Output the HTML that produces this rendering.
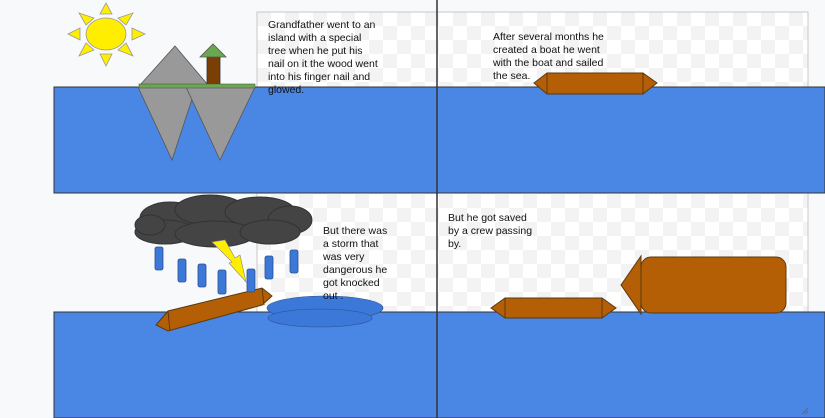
<!DOCTYPE html>
<html><head><style>html,body{margin:0;padding:0;background:#f8f9fa;}svg{display:block}</style></head><body>
<svg width="825" height="418" viewBox="0 0 825 418" xmlns="http://www.w3.org/2000/svg" font-family="Liberation Sans, sans-serif">
<defs>
<pattern id="ck" width="28" height="28" patternUnits="userSpaceOnUse" x="257" y="12">
<rect width="28" height="28" fill="#ffffff"/><rect width="14" height="14" fill="#f3f3f3"/><rect x="14" y="14" width="14" height="14" fill="#f3f3f3"/>
</pattern>
</defs>
<rect width="825" height="418" fill="#f8f9fa"/>
<rect x="257" y="12" width="551" height="300" fill="url(#ck)" stroke="#c8c8c8"/>
<!-- top band -->
<rect x="54" y="87" width="771" height="106" fill="#4a86e4" stroke="#333" stroke-width="1"/>
<rect x="54" y="312" width="771" height="106" fill="#4a86e4" stroke="#333" stroke-width="1"/>
<line x1="437" y1="0" x2="437" y2="418" stroke="#333" stroke-width="1.5"/>
<!-- sun -->
<g fill="#ffee00" stroke="#999" stroke-width="0.8">
<polygon points="106,3 100,14 112,14"/><polygon points="106,66 100,54 112,54"/>
<polygon points="68,34 80,28 80,40"/><polygon points="145,34 132,28 132,40"/>
<polygon points="79,13 94,18 86,25"/><polygon points="133,13 118,18 126,25"/>
<polygon points="79,56 86,43 94,50"/><polygon points="133,56 126,43 118,50"/>
<ellipse cx="106" cy="34" rx="20" ry="16"/>
</g>
<!-- island -->
<polygon points="140,85 175,46 208,85" fill="#999" stroke="#555" stroke-width="0.8"/>
<rect x="207" y="57" width="13" height="27" fill="#7a3f05" stroke="#333" stroke-width="0.8"/>
<polygon points="200,57 213,44 226,57" fill="#6aa84f" stroke="#555" stroke-width="0.8"/>
<polygon points="138,87 196,87 172,160" fill="#999" stroke="#555" stroke-width="0.8"/>
<polygon points="186,87 255,87 220,160" fill="#999" stroke="#555" stroke-width="0.8"/>
<rect x="139" y="84" width="116" height="4" fill="#6aa84f" stroke="#555" stroke-width="0.6"/>
<text font-size="10.5" fill="#111"><tspan x="268" y="28">Grandfather went to an</tspan><tspan x="268" y="41">island with a special</tspan><tspan x="268" y="54">tree when he put his</tspan><tspan x="268" y="67">nail on it the wood went</tspan><tspan x="268" y="80">into his finger nail and</tspan><tspan x="268" y="93">glowed.</tspan></text>
<text font-size="10.5" fill="#111"><tspan x="493" y="40">After several months he</tspan><tspan x="493" y="53">created a boat he went</tspan><tspan x="493" y="66">with the boat and sailed</tspan><tspan x="493" y="79">the sea.</tspan></text>
<!-- boat1 -->
<g fill="#b45f06" stroke="#5a3a10" stroke-width="1">
<polygon points="534,83 547,73 643,73 657,83 643,94 547,94"/>
<line x1="547" y1="73" x2="547" y2="94"/><line x1="643" y1="73" x2="643" y2="94"/>
<polygon points="491,308 505,298 602,298 616,308 602,318 505,318"/>
<line x1="505" y1="298" x2="505" y2="318"/><line x1="602" y1="298" x2="602" y2="318"/>
<polygon points="621,285 641,256 641,314"/>
<rect x="641" y="257" width="145" height="56" rx="10" ry="10"/>
<polygon points="156,325 168,311 262,288 272,296 262,305 168,331"/>
<line x1="168" y1="311" x2="170" y2="331"/><line x1="262" y1="288" x2="264" y2="305"/>
</g>
<!-- cloud -->
<g fill="#444" stroke="#333">
<ellipse cx="170" cy="218" rx="30" ry="16"/><ellipse cx="210" cy="210" rx="35" ry="15"/><ellipse cx="260" cy="212" rx="35" ry="15"/><ellipse cx="290" cy="220" rx="22" ry="14"/><ellipse cx="165" cy="232" rx="30" ry="12"/><ellipse cx="215" cy="234" rx="40" ry="13"/><ellipse cx="270" cy="232" rx="30" ry="12"/><ellipse cx="150" cy="225" rx="15" ry="10"/>
</g>
<polygon points="212,242 225,240 235,258 240,255 246,282 229,263 232,262 222,252" fill="#ffee00" stroke="#888" stroke-width="0.6"/>
<g fill="#3c78d8" stroke="#2a4f90" stroke-width="0.8">
<rect x="155" y="247" width="8" height="23" rx="2"/><rect x="178" y="259" width="8" height="23" rx="2"/><rect x="198" y="264" width="8" height="23" rx="2"/><rect x="218" y="270" width="8" height="24" rx="2"/><rect x="247" y="269" width="8" height="23" rx="2"/><rect x="265" y="256" width="8" height="23" rx="2"/><rect x="290" y="250" width="8" height="23" rx="2"/>
</g>
<g fill="#3c78d8" stroke="#2a4f90" stroke-width="0.6">
<ellipse cx="325" cy="308" rx="58" ry="12"/><ellipse cx="320" cy="318" rx="52" ry="9"/>
</g>
<text font-size="10.5" fill="#111"><tspan x="323" y="234">But there was</tspan><tspan x="323" y="247">a storm that</tspan><tspan x="323" y="260">was very</tspan><tspan x="323" y="273">dangerous he</tspan><tspan x="323" y="286">got knocked</tspan><tspan x="323" y="299">out .</tspan></text>
<text font-size="10.5" fill="#111"><tspan x="448" y="221">But he got saved</tspan><tspan x="448" y="234">by a crew passing</tspan><tspan x="448" y="247">by.</tspan></text>
<line x1="802" y1="414" x2="808" y2="408" stroke="#666"/><line x1="805" y1="414" x2="808" y2="411" stroke="#666"/>
</svg>
</body></html>
